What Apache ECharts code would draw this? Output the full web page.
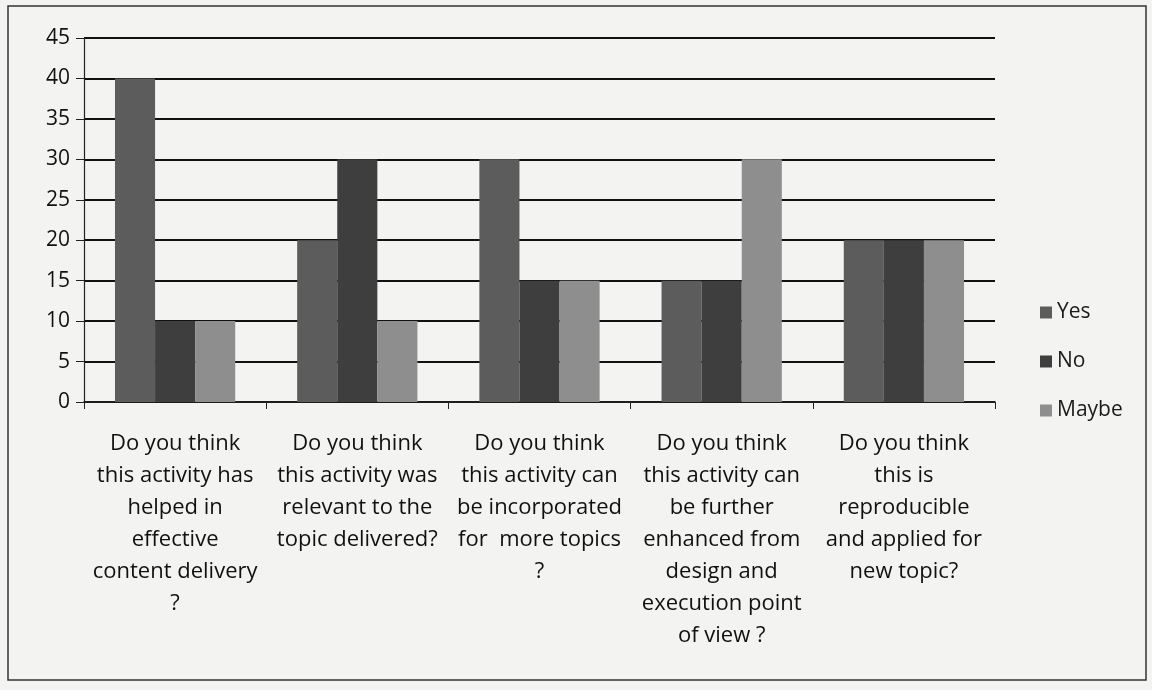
<!DOCTYPE html>
<html><head><meta charset="utf-8">
<script src="https://cdn.jsdelivr.net/npm/echarts@6/dist/echarts.min.js"></script>
<style>html,body{margin:0;padding:0;background:#f3f3f1}#c{width:1152px;height:690px}</style>
</head><body><div id="c"></div>
<script>
const categories = [
  "Do you think\nthis activity has\nhelped in\neffective\ncontent delivery\n?",
  "Do you think\nthis activity was\nrelevant to the\ntopic delivered?",
  "Do you think\nthis activity can\nbe incorporated\nfor  more topics\n?",
  "Do you think\nthis activity can\nbe further\nenhanced from\ndesign and\nexecution point\nof view ?",
  "Do you think\nthis is\nreproducible\nand applied for\nnew topic?"
];
const yesValues = [40, 20, 30, 15, 20];
const noValues = [10, 30, 15, 15, 20];
const maybeValues = [10, 10, 15, 30, 20];
const yTicks = [0, 5, 10, 15, 20, 25, 30, 35, 40, 45];

const chart = echarts.init(document.getElementById('c'));
const font = '"Open Sans", "Liberation Sans", sans-serif';
chart.setOption({
  backgroundColor: '#f3f3f1',
  animation: false,
  textStyle: {fontFamily: font},
  grid: {left: 84, right: 157, top: 38, bottom: 288},
  legend: {
    orient: 'vertical', left: 1035, top: 297, itemGap: 28,
    itemWidth: 12, itemHeight: 12, icon: 'rect',
    textStyle: {fontSize: 21, color: '#1a1a1a', fontFamily: font},
    data: ['Yes', 'No', 'Maybe']
  },
  xAxis: {
    type: 'category', data: categories,
    axisLine: {lineStyle: {color: '#222', width: 1.5}},
    axisTick: {show: true, length: 7, lineStyle: {color: '#222'}},
    axisLabel: {interval: 0, fontSize: 22, lineHeight: 32, color: '#111', margin: 26, fontFamily: font}
  },
  yAxis: {
    type: 'value', min: 0, max: 45, interval: 5,
    axisLine: {show: true, lineStyle: {color: '#222', width: 1.2}},
    axisTick: {show: true, length: 8, lineStyle: {color: '#222'}},
    axisLabel: {fontSize: 21, color: '#111', margin: 14, fontFamily: font,
      formatter: v => yTicks.includes(v) ? String(v) : ''},
    splitLine: {lineStyle: {color: '#111', width: 1.8}}
  },
  series: [
    {name: 'Yes', type: 'bar', data: yesValues, barWidth: '22%', barGap: '0%',
     itemStyle: {color: '#5c5c5c'}},
    {name: 'No', type: 'bar', data: noValues, barWidth: '22%', barGap: '0%',
     itemStyle: {color: '#3e3e3e'}},
    {name: 'Maybe', type: 'bar', data: maybeValues, barWidth: '22%', barGap: '0%',
     itemStyle: {color: '#8e8e8e'}}
  ],
  graphic: [{
    type: 'rect', shape: {x: 8, y: 6, width: 1138, height: 674},
    style: {fill: 'none', stroke: '#333', lineWidth: 1.5}, silent: true
  }]
});
</script></body></html>
